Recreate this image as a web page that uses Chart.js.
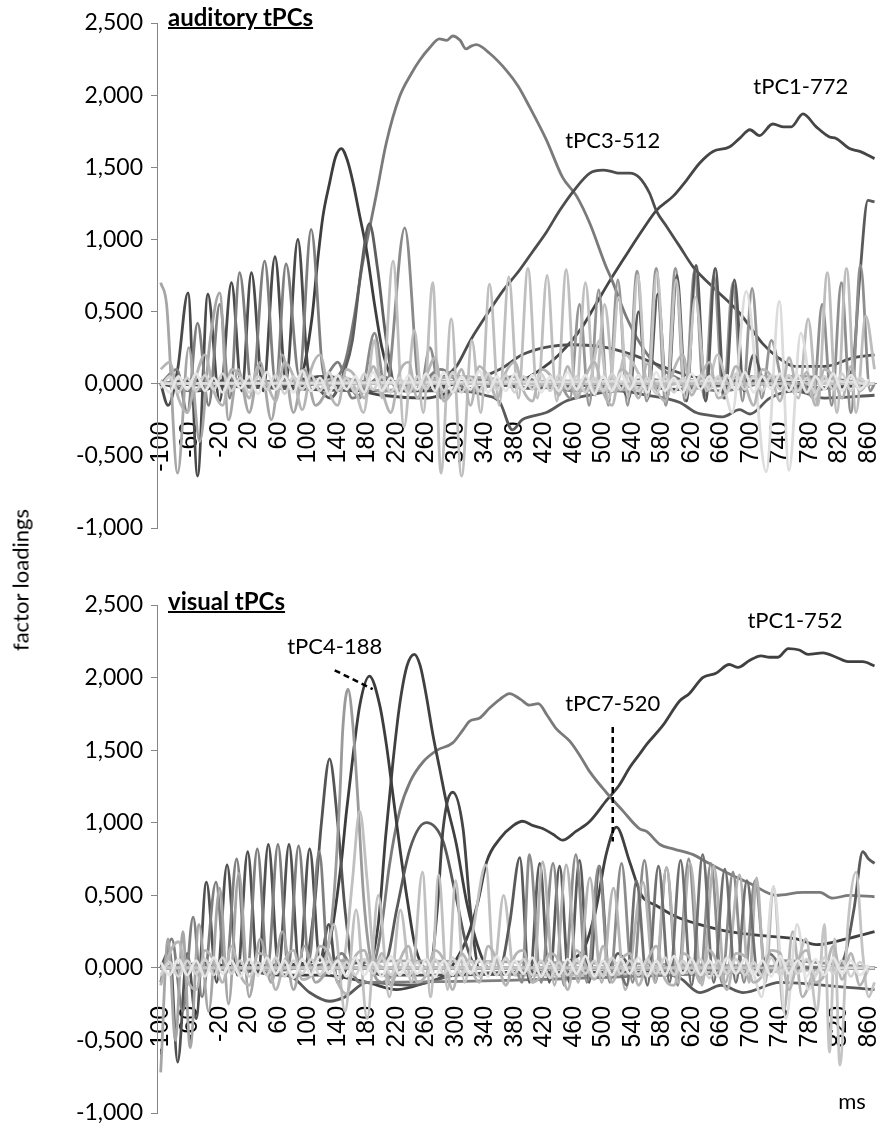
<!DOCTYPE html>
<html>
<head>
<meta charset="utf-8">
<title>tPC factor loadings</title>
<script src="https://cdn.jsdelivr.net/npm/chart.js@4.4.0/dist/chart.umd.min.js"></script>
<style>
  body { margin:0; background:#fff; width:884px; height:1126px; position:relative; overflow:hidden; font-family:Lato, "Open Sans", sans-serif; }
  .panel { position:absolute; left:0; width:884px; height:563px; }
  .ttl { position:absolute; left:168px; font-weight:bold; font-size:24px; line-height:24px; text-decoration:underline; text-decoration-thickness:2px; color:#000; }
  #yTitle { position:absolute; left:20px; top:580px; font-size:22px; white-space:nowrap; transform:translate(-50%,-50%) rotate(-90deg); }
  #msLbl { position:absolute; left:852px; top:1100px; font-size:22px; transform:translate(-50%,-50%); }
</style>
</head>
<body>
<div class="panel" style="top:0"><canvas id="audChart" width="884" height="563"></canvas></div>
<div class="panel" style="top:563px"><canvas id="visChart" width="884" height="563"></canvas></div>
<div class="ttl" style="top:5px">auditory tPCs</div>
<div class="ttl" style="top:589px">visual tPCs</div>
<div id="yTitle">factor loadings</div>
<div id="msLbl">ms</div>
<script>
// axis ticks
const msTicks = [-100,-60,-20,20,60,100,140,180,220,260,300,340,380,420,460,500,540,580,620,660,700,740,780,820,860];
const loadTicks = [-1,-0.5,0,0.5,1,1.5,2,2.5];

// shared 12 ms grid for the small components hugging zero
const bandT = [-100,-88,-76,-64,-52,-40,-28,-16,-4,8,20,32,44,56,68,80,92,104,116,128,140,152,164,176,188,200,212,224,236,248,260,272,284,296,308,320,332,344,356,368,380,392,404,416,428,440,452,464,476,488,500,512,524,536,548,560,572,584,596,608,620,632,644,656,668,680,692,704,716,728,740,752,764,776,788,800,812,824,836,848,860];

// ---- auditory tPCs ----
const audBand1 = [0.02,-0.06,0.05,-0.04,0.07,-0.05,0.04,-0.06,0.06,-0.03, 0.05,-0.07,0.08,-0.04,0.05,-0.06,0.09,-0.05,0.04,-0.07, 0.06,-0.04,0.05,-0.06,0.08,-0.05,0.04,-0.07,0.06,-0.04, 0.07,-0.05,0.08,-0.06,0.05,-0.04,0.09,-0.06,0.05,-0.05, 0.07,-0.04,0.06,-0.06,0.05,-0.05,0.08,-0.04,0.06,-0.07, 0.05,-0.05,0.07,-0.04,0.06,-0.06,0.08,-0.05,0.04,-0.06, 0.07,-0.04,0.05,-0.07,0.06,-0.05,0.08,-0.06,0.05,-0.04, 0.07,-0.05,0.06,-0.06,0.05,-0.04,0.07,-0.05,0.06,-0.04, 0.03];
const audBand2 = [-0.03,0.05,-0.06,0.04,-0.05,0.06,-0.04,0.07,-0.05,0.04, -0.06,0.05,-0.04,0.06,-0.07,0.05,-0.04,0.06,-0.05,0.08, -0.05,0.04,-0.06,0.07,-0.04,0.05,-0.06,0.04,-0.07,0.05, -0.04,0.06,-0.05,0.08,-0.06,0.04,-0.05,0.07,-0.04,0.06, -0.06,0.05,-0.04,0.07,-0.05,0.06,-0.04,0.05,-0.06,0.04, -0.05,0.07,-0.04,0.06,-0.05,0.04,-0.07,0.05,-0.06,0.04, -0.05,0.06,-0.04,0.05,-0.06,0.07,-0.04,0.05,-0.05,0.06, -0.04,0.06,-0.05,0.04,-0.06,0.05,-0.04,0.07,-0.05,0.04, -0.02];
const audBand3 = [0.1,0.15,-0.1,-0.2,0.05,0.2,-0.05,-0.15,0.1,0.05, -0.1,0.12,0.0,-0.12,0.15,0.05,-0.18,0.1,0.2,-0.05, -0.15,0.1,0.05,-0.1,0.12,-0.05,-0.2,0.08,0.15,-0.1, 0.05,0.18,-0.12,-0.05,0.1,-0.15,0.12,0.05,-0.1,0.08, 0.15,-0.05,-0.12,0.1,0.06,-0.08,0.12,-0.1,0.05,0.15, -0.06,-0.15,0.1,0.05,-0.1,0.14,-0.04,-0.12,0.1,0.2, -0.08,0.05,0.15,-0.1,-0.05,0.12,0.0,-0.15,0.1,0.05, -0.12,0.18,-0.05,0.08,-0.15,0.1,0.05,-0.1,0.12,-0.05, 0.02];

// oscillating components: [ms, loading]
const audOscA = [[-100,0.0],[-90,-0.15],[-77,0.1],[-63,0.63],[-50,-0.64],[-36,0.62],[-20,-0.12],[-4,0.70],[10,-0.05],[23,0.77],[39,-0.05],[55,0.88],[70,0.02],[86,1.0],[100,0.1],[112,0.02],[130,0.05],[160,-0.05],[200,0.03],[260,-0.05],[320,0.02],[400,-0.03],[500,0.02],[600,-0.04],[700,0.02],[800,-0.03],[868,0.0]];
const audOscB = [[-100,0.0],[-78,0.1],[-64,-0.2],[-50,0.42],[-35,-0.15],[-20,0.55],[-6,-0.1],[7,0.77],[24,-0.05],[41,0.85],[56,0.0],[70,0.83],[88,0.05],[104,1.07],[122,0.05],[140,0.15],[160,-0.1],[200,0.05],[240,-0.05],[280,0.1],[320,-0.05],[380,0.05],[460,-0.05],[560,0.03],[660,-0.05],[760,0.05],[868,0.0]];
const audOscC = [[-100,0.70],[-92,0.55],[-77,-0.62],[-62,0.25],[-47,-0.4],[-33,0.3],[-20,0.63],[-8,-0.25],[5,0.1],[20,-0.2],[35,0.15],[50,-0.25],[65,0.2],[80,-0.2],[95,0.1],[110,-0.15],[140,0.05],[200,-0.05],[300,0.05],[500,-0.05],[700,0.05],[868,0.0]];
const audOscD = [[-100,0.0],[100,0.02],[130,-0.1],[150,0.1],[160,0.3],[172,0.8],[183,1.11],[194,0.8],[206,0.3],[220,-0.05],[240,0.0],[300,0.05],[400,-0.03],[600,0.02],[868,0.0]];
const audOscE = [[-100,0.0],[150,0.02],[170,-0.1],[190,0.35],[205,-0.05],[231,1.08],[252,-0.05],[265,0.25],[280,-0.1],[320,0.02],[500,0.0],[868,0.0]];
const audOscF = [[-100,0.0],[160,0.0],[175,-0.2],[190,0.3],[200,-0.1],[215,0.85],[230,-0.3],[244,0.37],[256,-0.2],[269,0.70],[280,-0.62],[294,0.45],[308,-0.64],[322,0.3],[334,-0.2],[346,0.69],[359,-0.15],[372,0.74],[385,-0.1],[398,0.8],[411,-0.1],[424,0.75],[437,-0.12],[450,0.79],[463,-0.1],[476,0.7],[489,-0.08],[502,0.55],[516,-0.05],[530,0.2],[560,0.0],[868,0.0]];
const audOscG = [[-100,0.0],[440,0.0],[455,-0.1],[468,0.55],[481,-0.15],[494,0.65],[507,-0.15],[520,0.72],[533,-0.15],[546,0.78],[559,-0.12],[572,0.8],[585,-0.15],[598,0.8],[611,-0.12],[624,0.78],[637,-0.1],[650,0.75],[663,-0.1],[676,0.7],[689,-0.12],[702,0.66],[715,-0.1],[728,0.3],[745,0.0],[868,0.0]];
const audOscH = [[-100,0.0],[520,0.02],[535,-0.1],[548,0.5],[561,-0.1],[574,0.62],[587,-0.1],[600,0.75],[613,-0.12],[626,0.82],[639,-0.12],[652,0.8],[665,-0.1],[678,0.72],[691,-0.05],[704,0.2],[720,0.0],[868,0.0]];
const audOscI = [[-100,0.0],[480,0.0],[495,0.3],[508,-0.1],[521,0.6],[534,-0.1],[547,0.75],[560,-0.1],[573,0.77],[586,-0.1],[599,0.72],[612,-0.1],[625,0.6],[640,-0.05],[655,0.2],[670,0.0],[868,0.0]];
const audOscJ = [[-100,0.0],[660,0.02],[675,-0.2],[694,0.64],[721,-0.61],[739,0.57],[752,-0.6],[768,0.35],[785,-0.1],[800,0.02],[868,0.0]];
const audOscK = [[-100,0.0],[750,0.0],[765,-0.1],[778,0.45],[791,-0.15],[804,0.77],[817,-0.2],[830,0.8],[843,-0.2],[856,0.47],[868,0.1]];
const audOscL = [[-100,0.0],[770,0.0],[785,-0.1],[797,0.55],[810,-0.15],[823,0.7],[836,-0.2],[849,0.82],[862,-0.05],[868,0.0]];

// broad components
const audEnd = [[-100,0.0],[700,0.02],[780,-0.05],[820,0.0],[838,0.1],[848,0.74],[859,1.27],[868,1.26]];
const audNeg = [[-100,0.0],[200,-0.05],[300,-0.05],[340,-0.08],[360,-0.13],[377,-0.32],[390,-0.25],[400,-0.23],[423,-0.2],[450,-0.12],[480,-0.08],[520,-0.05],[560,-0.08],[604,-0.13],[626,-0.2],[645,-0.22],[662,-0.23],[685,-0.18],[699,-0.21],[726,-0.1],[760,-0.05],[800,-0.1],[868,-0.08]];
const audPos = [[-100,0.0],[300,0.0],[360,0.1],[390,0.2],[420,0.25],[460,0.27],[505,0.25],[540,0.2],[580,0.12],[620,0.05],[680,0.02],[868,0.0]];
const audPeak145 = [[-100,0.0],[0,0.02],[60,-0.03],[90,0.05],[105,0.45],[113,0.86],[120,1.16],[129,1.39],[137,1.57],[145,1.63],[153,1.55],[161,1.39],[170,1.16],[179,0.93],[190,0.55],[200,0.25],[212,0.05],[230,-0.05],[300,0.0],[868,0.0]];
const audTpc3 = [[-100,0.0],[-40,0.03],[40,-0.02],[120,0.05],[200,0.0],[260,0.02],[285,0.05],[301,0.12],[320,0.3],[345,0.5],[365,0.65],[387,0.79],[405,0.92],[423,1.05],[441,1.2],[459,1.33],[482,1.46],[500,1.48],[512,1.47],[520,1.46],[536,1.46],[549,1.43],[563,1.32],[572,1.2],[586,1.09],[604,0.95],[622,0.81],[653,0.65],[685,0.49],[716,0.28],[735,0.19],[760,0.12],[800,0.12],[840,0.18],[868,0.2]];
const audTpc2 = [[-100,0.02],[-60,-0.05],[0,0.03],[60,-0.02],[100,0.0],[130,0.02],[150,0.15],[162,0.45],[174,0.84],[181,1.02],[192,1.30],[206,1.67],[224,1.99],[240,2.15],[251,2.24],[265,2.33],[278,2.39],[288,2.38],[296,2.41],[306,2.38],[314,2.32],[321,2.34],[328,2.35],[346,2.29],[369,2.17],[385,2.06],[400,1.92],[423,1.69],[445,1.43],[464,1.30],[482,1.11],[504,0.81],[511,0.73],[530,0.48],[550,0.28],[570,0.14],[600,0.04],[640,-0.02],[700,0.0],[780,-0.03],[868,0.0]];
const audTpc1 = [[-100,0.0],[-50,-0.05],[0,0.02],[60,-0.03],[120,0.0],[200,-0.08],[260,-0.1],[300,-0.05],[340,-0.02],[380,0.0],[410,0.08],[440,0.2],[470,0.38],[490,0.55],[511,0.73],[536,0.93],[554,1.07],[572,1.20],[595,1.30],[613,1.41],[631,1.53],[649,1.61],[671,1.64],[685,1.70],[699,1.76],[712,1.72],[730,1.80],[745,1.78],[755,1.78],[771,1.87],[789,1.78],[807,1.71],[816,1.70],[834,1.63],[848,1.61],[868,1.56]];

// ---- visual tPCs ----
const visBand1 = [0.04,-0.05,0.06,-0.05,0.05,-0.06,0.07,-0.04,0.05,-0.06, 0.06,-0.05,0.07,-0.04,0.05,-0.07,0.06,-0.05,0.08,-0.04, 0.05,-0.06,0.07,-0.05,0.04,-0.06,0.08,-0.05,0.05,-0.04, 0.06,-0.06,0.05,-0.05,0.07,-0.04,0.06,-0.06,0.08,-0.05, 0.05,-0.04,0.07,-0.06,0.05,-0.05,0.06,-0.04,0.08,-0.06, 0.05,-0.05,0.06,-0.04,0.07,-0.06,0.05,-0.05,0.08,-0.04, 0.06,-0.05,0.05,-0.06,0.07,-0.04,0.06,-0.05,0.05,-0.06, 0.08,-0.04,0.05,-0.06,0.06,-0.05,0.07,-0.04,0.05,-0.05, 0.02];
const visBand2 = [-0.05,0.04,-0.06,0.05,-0.04,0.06,-0.05,0.07,-0.04,0.05, -0.06,0.04,-0.05,0.07,-0.06,0.05,-0.04,0.06,-0.05,0.05, -0.07,0.04,-0.05,0.06,-0.04,0.07,-0.05,0.05,-0.06,0.04, -0.05,0.06,-0.04,0.07,-0.05,0.05,-0.06,0.04,-0.05,0.07, -0.04,0.06,-0.05,0.05,-0.07,0.04,-0.05,0.06,-0.04,0.05, -0.06,0.07,-0.04,0.05,-0.05,0.06,-0.04,0.07,-0.05,0.05, -0.04,0.06,-0.07,0.05,-0.04,0.06,-0.05,0.04,-0.06,0.07, -0.05,0.05,-0.04,0.06,-0.05,0.07,-0.04,0.05,-0.06,0.04, -0.03];
const visBand3 = [-0.12,0.1,0.18,-0.08,-0.15,0.12,0.05,-0.1,0.15,-0.05, -0.12,0.1,0.08,-0.15,0.05,0.12,-0.08,-0.05,0.15,0.1, -0.1,-0.18,0.08,0.12,-0.05,0.1,-0.12,0.05,0.15,-0.1, -0.05,0.12,0.05,-0.15,0.1,0.0,-0.1,0.15,0.05,-0.12, 0.08,0.12,-0.1,-0.05,0.1,0.05,-0.15,0.12,0.02,-0.08, 0.15,-0.1,0.05,0.1,-0.12,0.05,0.15,-0.08,-0.12,0.1, 0.05,-0.1,0.12,0.02,-0.15,0.1,0.08,-0.1,-0.05,0.12, 0.1,-0.15,0.05,0.12,-0.1,-0.05,0.15,-0.08,0.1,-0.12, 0.0];

const visOscA = [[-100,0.0],[-88,0.12],[-77,-0.65],[-64,0.1],[-52,-0.35],[-38,0.59],[-24,-0.1],[-10,0.71],[4,-0.05],[18,0.8],[32,-0.05],[46,0.85],[60,0.0],[74,0.85],[88,0.0],[102,0.82],[116,0.05],[128,0.3],[140,-0.1],[160,0.05],[200,-0.05],[868,0.0]];
const visOscB = [[-100,-0.1],[-85,0.2],[-70,-0.3],[-56,0.35],[-44,-0.2],[-25,0.59],[-12,-0.05],[3,0.75],[17,-0.05],[31,0.82],[45,0.0],[59,0.85],[73,0.0],[87,0.84],[101,0.05],[115,0.8],[128,0.0],[145,0.1],[170,-0.1],[868,0.0]];
const visOscC = [[-100,-0.72],[-90,0.2],[-80,-0.5],[-70,0.25],[-60,-0.55],[-48,0.3],[-35,-0.3],[-20,0.55],[-8,-0.25],[6,0.65],[20,-0.2],[35,0.2],[50,-0.1],[65,0.25],[80,-0.15],[95,0.15],[110,-0.1],[140,0.05],[868,0.0]];
const visOscD = [[-100,0.0],[120,0.0],[135,0.3],[150,-0.3],[165,0.4],[180,-0.35],[195,0.5],[210,-0.2],[225,0.4],[240,-0.1],[255,0.66],[266,-0.2],[277,0.64],[289,-0.15],[300,0.6],[312,-0.1],[325,0.3],[341,0.71],[352,0.0],[365,0.5],[380,-0.05],[868,0.0]];
const visOscE = [[-100,0.0],[360,0.0],[373,0.3],[387,0.76],[400,-0.1],[414,0.72],[427,-0.1],[441,0.7],[454,-0.1],[468,0.74],[481,-0.1],[495,0.7],[508,0.0],[520,0.1],[540,0.0],[868,0.0]];
const visOscF = [[-100,0.0],[380,0.0],[390,-0.1],[400,0.78],[416,-0.1],[432,0.72],[447,-0.12],[463,0.78],[478,-0.1],[494,0.7],[509,-0.1],[525,0.72],[540,-0.1],[556,0.74],[571,-0.1],[586,0.69],[601,-0.12],[616,0.75],[631,-0.1],[646,0.72],[661,-0.1],[676,0.66],[691,-0.1],[706,0.6],[721,-0.05],[740,0.05],[868,0.0]];
const visOscG = [[-100,0.0],[395,0.0],[405,-0.1],[418,0.73],[434,-0.12],[450,0.71],[466,-0.1],[482,0.62],[498,-0.1],[514,0.55],[530,-0.15],[554,0.59],[570,-0.1],[586,0.69],[602,-0.1],[618,0.72],[634,-0.12],[650,0.7],[666,-0.1],[685,0.64],[698,-0.1],[708,0.62],[720,-0.1],[731,0.56],[745,-0.3],[757,0.25],[770,-0.2],[790,0.0],[868,0.0]];
const visOscH = [[-100,0.0],[520,0.0],[532,-0.12],[545,0.6],[560,-0.12],[575,0.7],[590,-0.1],[605,0.74],[620,-0.12],[635,0.78],[650,-0.1],[665,0.68],[680,-0.1],[695,0.6],[710,-0.05],[725,0.1],[745,0.0],[868,0.0]];
const visOscI = [[-100,0.0],[700,0.0],[715,-0.2],[731,0.56],[748,-0.35],[763,0.3],[778,-0.15],[795,0.0],[868,0.0]];
const visOscJ = [[-100,0.0],[760,0.0],[775,0.2],[790,-0.3],[800,0.3],[807,-0.58],[814,0.2],[821,-0.67],[832,0.3],[843,0.66],[852,0.1],[860,-0.2],[868,-0.1]];

const visEnd = [[-100,0.0],[800,0.0],[825,0.05],[840,0.4],[852,0.8],[860,0.75],[868,0.72]];
const visNeg = [[-100,0.0],[40,-0.03],[80,-0.07],[102,-0.17],[129,-0.23],[150,-0.2],[180,-0.1],[240,-0.12],[300,-0.05],[400,-0.03],[560,-0.03],[604,-0.07],[631,-0.17],[660,-0.12],[690,-0.17],[740,-0.1],[800,-0.12],[868,-0.15]];
const visPeak129 = [[-100,0.0],[95,0.02],[108,0.4],[118,1.0],[129,1.44],[140,1.0],[150,0.4],[162,0.0],[868,0.0]];
const visPeak154 = [[-100,0.0],[110,0.0],[125,0.1],[135,0.5],[143,1.19],[147,1.65],[154,1.92],[161,1.65],[167,1.19],[175,0.5],[185,0.05],[200,-0.1],[230,0.0],[868,0.0]];
const visPeak170 = [[-100,0.0],[140,0.0],[150,0.1],[160,0.6],[170,1.08],[180,0.6],[190,0.05],[210,0.0],[868,0.0]];
const visTpc4 = [[-100,0.0],[60,0.02],[110,0.05],[130,0.2],[145,0.73],[152,1.08],[161,1.47],[170,1.81],[183,2.01],[197,1.81],[206,1.54],[215,1.19],[225,0.8],[235,0.45],[245,0.15],[260,0.0],[868,0.0]];
const visPeak244 = [[-100,0.0],[180,0.0],[195,0.3],[205,0.9],[215,1.42],[224,1.81],[234,2.08],[244,2.16],[252,2.08],[260,1.88],[269,1.61],[278,1.38],[287,1.15],[301,0.85],[315,0.45],[330,0.15],[345,0.0],[868,0.0]];
const visPeak260 = [[-100,0.0],[205,0.05],[220,0.4],[238,0.82],[260,1.0],[283,0.87],[300,0.5],[315,0.15],[330,0.0],[868,0.0]];
const visPeak296 = [[-100,0.0],[265,0.0],[275,0.4],[283,0.96],[296,1.21],[310,0.96],[320,0.4],[332,0.0],[868,0.0]];
const visTpc7 = [[-100,0.0],[400,0.0],[470,0.1],[490,0.4],[504,0.78],[518,0.97],[536,0.73],[552,0.5],[572,0.43],[600,0.35],[630,0.3],[671,0.25],[720,0.22],[762,0.2],[789,0.16],[830,0.2],[868,0.25]];
const visBig = [[-100,0.0],[-40,0.02],[40,-0.03],[120,0.02],[170,0.0],[190,0.05],[200,0.3],[210,0.7],[224,1.08],[238,1.28],[256,1.42],[275,1.5],[296,1.55],[310,1.64],[319,1.70],[332,1.72],[346,1.79],[360,1.85],[373,1.89],[388,1.85],[400,1.81],[412,1.82],[424,1.74],[436,1.65],[455,1.56],[470,1.45],[482,1.35],[504,1.21],[527,1.08],[549,0.96],[559,0.94],[577,0.85],[595,0.82],[622,0.78],[640,0.73],[670,0.65],[700,0.58],[735,0.50],[771,0.52],[794,0.52],[811,0.48],[834,0.50],[868,0.49]];
const visTpc1 = [[-100,0.0],[-40,0.03],[20,-0.02],[60,-0.05],[120,-0.05],[180,-0.1],[220,-0.15],[260,-0.1],[285,-0.05],[300,0.05],[315,0.2],[330,0.45],[342,0.73],[360,0.89],[378,0.98],[391,1.01],[405,0.98],[418,0.96],[432,0.92],[445,0.88],[463,0.94],[482,1.01],[504,1.15],[522,1.26],[536,1.38],[549,1.47],[559,1.54],[581,1.67],[604,1.84],[617,1.89],[635,2.0],[653,2.03],[671,2.09],[683,2.07],[699,2.12],[714,2.15],[726,2.14],[737,2.14],[751,2.2],[766,2.19],[778,2.16],[798,2.17],[816,2.14],[832,2.11],[852,2.11],[868,2.08]];

// labels and leader lines, in (ms, loading)
const audNotes = [['tPC1-772', 768, 2.06], ['tPC3-512', 513, 1.68]];
const visNotes = [['tPC4-188', 136, 2.21], ['tPC1-752', 760, 2.39], ['tPC7-520', 513, 1.82]];
const visLeaders = [[136, 2.05, 187.5, 1.92], [513, 1.66, 513, 0.87]];

const pts = arr => arr.map(([x, y]) => ({x, y}));
const onGrid = vals => bandT.map((x, i) => ({x, y: vals[i]}));

function line(data, color, w){
  return {data, borderColor:color, borderWidth:w || 2.8, pointRadius:0, fill:false, cubicInterpolationMode:'monotone'};
}

const notesPlugin = {
  id:'notes',
  afterDatasetsDraw(chart, args, opts){
    const ctx = chart.ctx, x = chart.scales.x, y = chart.scales.y;
    ctx.save();
    ctx.strokeStyle = '#000';
    ctx.lineWidth = 2.5;
    ctx.setLineDash([6, 4]);
    (opts.leaders || []).forEach(l => {
      ctx.beginPath();
      ctx.moveTo(x.getPixelForValue(l[0]), y.getPixelForValue(l[1]));
      ctx.lineTo(x.getPixelForValue(l[2]), y.getPixelForValue(l[3]));
      ctx.stroke();
    });
    ctx.setLineDash([]);
    ctx.fillStyle = '#000';
    ctx.font = '22px Lato';
    ctx.textAlign = 'center';
    ctx.textBaseline = 'middle';
    (opts.notes || []).forEach(n => ctx.fillText(n[0], x.getPixelForValue(n[1]), y.getPixelForValue(n[2])));
    ctx.restore();
  }
};

function makeChart(id, datasets, notes, leaders, padTop, padBottom){
  return new Chart(document.getElementById(id), {
    type:'line',
    data:{datasets},
    plugins:[notesPlugin],
    options:{
      responsive:false, animation:false, events:[],
      layout:{padding:{top:padTop, bottom:padBottom, left:0, right:8}},
      plugins:{legend:{display:false}, tooltip:{enabled:false}, notes:{notes, leaders}},
      scales:{
        x:{
          type:'linear', min:-105, max:870, position:{y:0},
          grid:{display:false, drawTicks:false},
          border:{display:true, color:'#868686', width:1},
          ticks:{autoSkip:false, minRotation:90, maxRotation:90, padding:38, color:'#000', font:{family:'Liberation Sans', size:25}},
          afterBuildTicks: a => { a.ticks = msTicks.map(v => ({value:v})); },
          afterFit: a => { a.height = 0; a.paddingLeft = 0; a.paddingRight = 0; }
        },
        y:{
          min:-1, max:2.5,
          grid:{drawOnChartArea:false, drawTicks:true, tickLength:6, color:'#868686'},
          border:{color:'#868686', width:1},
          ticks:{color:'#000', padding:8, font:{family:'Lato', size:23}, callback: v => v.toFixed(3).replace('.', ',')},
          afterBuildTicks: a => { a.ticks = loadTicks.map(v => ({value:v})); },
          afterFit: a => { a.width = 157; a.paddingTop = 0; a.paddingBottom = 0; }
        }
      }
    }
  });
}

makeChart('audChart', [
  line(onGrid(audBand1), '#e6e6e6'),
  line(onGrid(audBand2), '#d2d2d2'),
  line(onGrid(audBand3), '#b5b5b5'),
  line(pts(audOscJ), '#dcdcdc'),
  line(pts(audOscK), '#bdbdbd'),
  line(pts(audOscL), '#8e8e8e'),
  line(pts(audOscI), '#c4c4c4'),
  line(pts(audOscF), '#bfbfbf'),
  line(pts(audOscC), '#a6a6a6'),
  line(pts(audOscH), '#595959'),
  line(pts(audOscG), '#969696'),
  line(pts(audOscE), '#8a8a8a'),
  line(pts(audOscD), '#5e5e5e'),
  line(pts(audOscB), '#7f7f7f'),
  line(pts(audOscA), '#4a4a4a'),
  line(pts(audEnd), '#5a5a5a'),
  line(pts(audNeg), '#5a5a5a'),
  line(pts(audPos), '#4f4f4f'),
  line(pts(audPeak145), '#3d3d3d'),
  line(pts(audTpc3), '#4d4d4d'),
  line(pts(audTpc2), '#7a7a7a'),
  line(pts(audTpc1), '#454545')
], audNotes, [], 23, 35);

makeChart('visChart', [
  line(onGrid(visBand1), '#e6e6e6'),
  line(onGrid(visBand2), '#d2d2d2'),
  line(onGrid(visBand3), '#b5b5b5'),
  line(pts(visOscJ), '#c4c4c4'),
  line(pts(visOscI), '#dcdcdc'),
  line(pts(visOscH), '#707070'),
  line(pts(visOscG), '#b4b4b4'),
  line(pts(visOscF), '#8c8c8c'),
  line(pts(visOscE), '#5a5a5a'),
  line(pts(visOscD), '#c0c0c0'),
  line(pts(visOscC), '#a6a6a6'),
  line(pts(visOscB), '#7f7f7f'),
  line(pts(visOscA), '#505050'),
  line(pts(visEnd), '#5a5a5a'),
  line(pts(visNeg), '#595959'),
  line(pts(visPeak170), '#c0c0c0'),
  line(pts(visPeak154), '#9a9a9a'),
  line(pts(visPeak129), '#555555'),
  line(pts(visPeak296), '#454545'),
  line(pts(visPeak260), '#5a5a5a'),
  line(pts(visPeak244), '#404040'),
  line(pts(visTpc4), '#3d3d3d'),
  line(pts(visTpc7), '#404040'),
  line(pts(visBig), '#7a7a7a'),
  line(pts(visTpc1), '#404040')
], visNotes, visLeaders, 42, 13);
</script>
</body>
</html>
